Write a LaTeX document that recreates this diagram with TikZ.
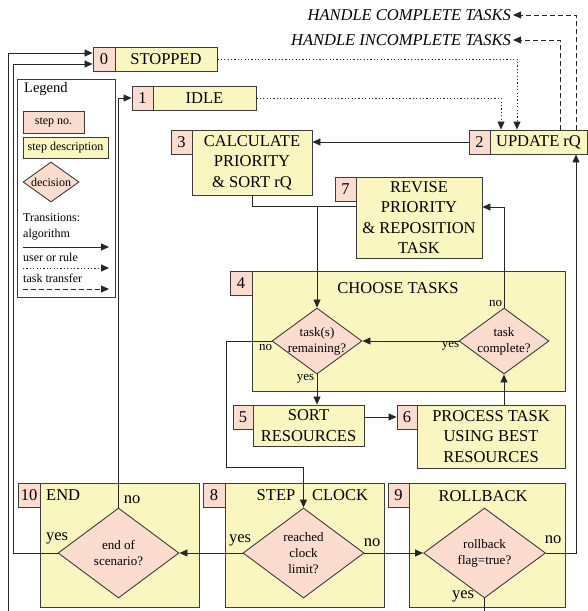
\documentclass[tikz,border=0pt]{standalone}
\usepackage{fontspec}
\setmainfont{Liberation Serif}
\usetikzlibrary{arrows.meta,shapes.geometric}
\definecolor{pinkc}{RGB}{251,220,207}
\definecolor{yelc}{RGB}{250,246,192}
\definecolor{edgec}{RGB}{60,60,60}
\begin{document}
\begin{tikzpicture}[x=1pt,y=-1pt,
  numbox/.style={draw=edgec,fill=pinkc,line width=0.9pt,inner sep=0pt,minimum height=24pt,font=\fontsize{16.5}{20}\selectfont},
  mainbox/.style={draw=edgec,fill=yelc,line width=0.9pt,inner sep=0pt,align=center,font=\fontsize{16.5}{20.5}\selectfont},
  dec/.style={diamond,draw=edgec,fill=pinkc,line width=0.9pt,inner sep=0pt},
  dectext/.style={align=center,inner sep=0pt,font=\fontsize{13}{16}\selectfont},
  big/.style={inner sep=0pt,font=\fontsize{16.5}{20}\selectfont},
  small/.style={inner sep=0pt,font=\fontsize{13}{16}\selectfont},
  legt/.style={inner sep=0pt,anchor=west,font=\fontsize{12}{14}\selectfont},
  line/.style={line width=0.8pt,black!85},
  arr/.style={line,-{Triangle[length=8pt,width=7pt]}},
  dotarr/.style={arr,dash pattern=on 1.2pt off 2.2pt},
  dasharr/.style={arr,dash pattern=on 5pt off 3pt}
]
\useasboundingbox (0,0) rectangle (588,611);

% step boxes
\node[numbox,minimum width=22pt] (b0n) at (104,59) {0};
\node[mainbox,minimum width=102pt,minimum height=24pt] (b0m) at (166,59) {STOPPED};
\node[numbox,minimum width=21pt] (b1n) at (142.5,98) {1};
\node[mainbox,minimum width=103pt,minimum height=24pt] (b1m) at (204.5,98) {IDLE};
\node[numbox,minimum width=21pt] (b2n) at (479.5,142) {2};
\node[mainbox,minimum width=97pt,minimum height=24pt] (b2m) at (538.5,142) {UPDATE rQ};
\node[numbox,minimum width=21pt] (b3n) at (181.5,142) {3};
\node[mainbox,minimum width=120pt,minimum height=65pt] (b3m) at (252,162.5) {CALCULATE\\PRIORITY\\\& SORT rQ};
\node[numbox,minimum width=21pt] (b7n) at (345.5,189) {7};
\node[mainbox,minimum width=126pt,minimum height=81pt] (b7m) at (419,217.5) {REVISE\\PRIORITY\\\& REPOSITION\\TASK};
\node[numbox,minimum width=22pt] (b4n) at (241,283) {4};
\node[mainbox,minimum width=313pt,minimum height=120pt] (b4m) at (408.5,331) {};
\node[big] (t4) at (398,288) {CHOOSE TASKS};
\node[numbox,minimum width=20pt] (b5n) at (243,417) {5};
\node[mainbox,minimum width=111pt,minimum height=41pt] (b5m) at (308.5,425.5) {SORT\\RESOURCES};
\node[numbox,minimum width=20pt] (b6n) at (407,417) {6};
\node[mainbox,minimum width=148pt,minimum height=63pt] (b6m) at (491,436.5) {PROCESS TASK\\USING BEST\\RESOURCES};
\node[numbox,minimum width=22pt] (b10n) at (29,495) {10};
\node[mainbox,minimum width=159pt,minimum height=124pt] (b10m) at (119.5,545) {};
\node[big,anchor=west] (t10) at (46,495) {END};
\node[numbox,minimum width=22pt] (b8n) at (214,495) {8};
\node[mainbox,minimum width=159pt,minimum height=124pt] (b8m) at (304.5,545) {};
\node[big] (t8a) at (276,495) {STEP};
\node[big] (t8b) at (340,495) {CLOCK};
\node[numbox,minimum width=21pt] (b9n) at (398.5,495) {9};
\node[mainbox,minimum width=156pt,minimum height=124pt] (b9m) at (487,545) {};
\node[big] (t9) at (483,496) {ROLLBACK};

% decisions
\node[dec,minimum width=90pt,minimum height=66pt] (tr) at (317,341) {};
\node[dectext] (trt) at (tr) {task(s)\\remaining?};
\node[dec,minimum width=90pt,minimum height=66pt] (tc) at (504,341) {};
\node[dectext] (tct) at (tc) {task\\complete?};
\node[dec,minimum width=121pt,minimum height=90pt] (es) at (118.5,553) {};
\node[dectext] (est) at (es) {end of\\scenario?};
\node[dec,minimum width=121pt,minimum height=90pt] (cl) at (303.5,553) {};
\node[dectext] (clt) at (cl) {reached\\clock\\limit?};
\node[dec,minimum width=122pt,minimum height=90pt] (rb) at (484.5,553) {};
\node[dectext] (rbt) at (rb) {rollback\\flag=true?};

% outputs
\node[anchor=east,inner sep=2pt,font=\fontsize{16.5}{20}\selectfont\itshape] (hc) at (513,15) {HANDLE COMPLETE TASKS};
\node[anchor=east,inner sep=2pt,font=\fontsize{16.5}{20}\selectfont\itshape] (hi) at (513,40) {HANDLE INCOMPLETE TASKS};

% legend
\node[draw=edgec,line width=0.9pt,minimum width=98pt,minimum height=218pt,inner sep=0pt] (leg) at (66,188) {};
\node[inner sep=0pt,anchor=west,font=\fontsize{14.5}{16}\selectfont] (legh) at (24,89) {Legend};
\node[numbox,minimum width=61pt,minimum height=22pt,font=\fontsize{12}{14}\selectfont] (lsn) at (53.5,122) {step no.};
\node[mainbox,minimum width=85pt,minimum height=21pt,font=\fontsize{12}{14}\selectfont] (lsd) at (65.5,147.5) {step description};
\node[dec,minimum width=56pt,minimum height=40pt] (ldec) at (51,182) {};
\node[inner sep=0pt,font=\fontsize{12}{14}\selectfont] (ldect) at (ldec) {decision};
\node[legt] (ltr) at (23,218) {Transitions:};
\node[legt] (lal) at (23,235) {algorithm};
\node[legt] (lur) at (23,257) {user or rule};
\node[legt] (ltt) at (23,278) {task transfer};
\coordinate (la1) at (23,247); \coordinate (la2) at (109,247);
\coordinate (lb1) at (23,268); \coordinate (lb2) at (109,268);
\coordinate (lc1) at (23,289); \coordinate (lc2) at (109,289);
\draw[arr] (la1) -- (la2);
\draw[dotarr] (lb1) -- (lb2);
\draw[dasharr] (lc1) -- (lc2);

% helper coordinates
\coordinate (xr) at (576,0);
\coordinate (xi) at (560,0);
\coordinate (xd0) at (517,0);
\coordinate (xd1) at (501,0);
\coordinate (j) at (317,206);
\coordinate (j7) at (0,207);
\coordinate (c1) at (226,467);
\coordinate (c2) at (13,64);
\coordinate (c3) at (8,612.5);
\coordinate (c4) at (8,53);

% connectors
\draw[dotarr] (b0m.east) -| (xd0 |- b2m.north);
\draw[dotarr] (b1m.east) -| (xd1 |- b2m.north);
\draw[dasharr] (xr |- b2m.north) |- (hc.east);
\draw[dasharr] (xi |- b2m.north) |- (hi.east);
\draw[arr] (b2n.west) -- (b3m.east |- b2n.west);
\draw[line] (b3m.south) |- (j);
\draw[line] (b7m.west |- j) -- (j);
\draw[arr] (j) -- (tr.north);
\draw[arr] (tc.north) |- (b7m.east |- j7);
\draw[arr] (tc.west) -- (tr.east);
\draw[arr] (tr.south) -- (tr.south |- b5m.north);
\draw[arr] (b5m.east |- b6n.west) -- (b6n.west);
\draw[arr] (tc.south |- b6m.north) -- (tc.south);
\draw[arr] (tr.west) -| (c1) -| (cl.north);
\draw[arr] (cl.west) -- (es.east);
\draw[arr] (cl.east) -- (rb.west);
\draw[arr] (rb.east) -| (xr |- b2m.south);
\draw[arr] (es.north) |- (b1n.west);
\draw[arr] (es.west) -| (c2) -- (b0n.west |- c2);
\draw[arr] (rb.south) |- (c3) -- (c4) -- (b0n.west |- c4);

% labels
\node[small] (l1) at (265.5,347) {no};
\node[small] (l2) at (305.5,379) {yes};
\node[small] (l3) at (450.5,346) {yes};
\node[small] (l4) at (495.5,303) {no};
\node[big] (l5) at (132,500) {no};
\node[big] (l6) at (57,538) {yes};
\node[big] (l7) at (240,540) {yes};
\node[big] (l8) at (372,543) {no};
\node[big] (l9) at (553,540) {no};
\node[big] (l10) at (463,596) {yes};
\end{tikzpicture}
\end{document}
